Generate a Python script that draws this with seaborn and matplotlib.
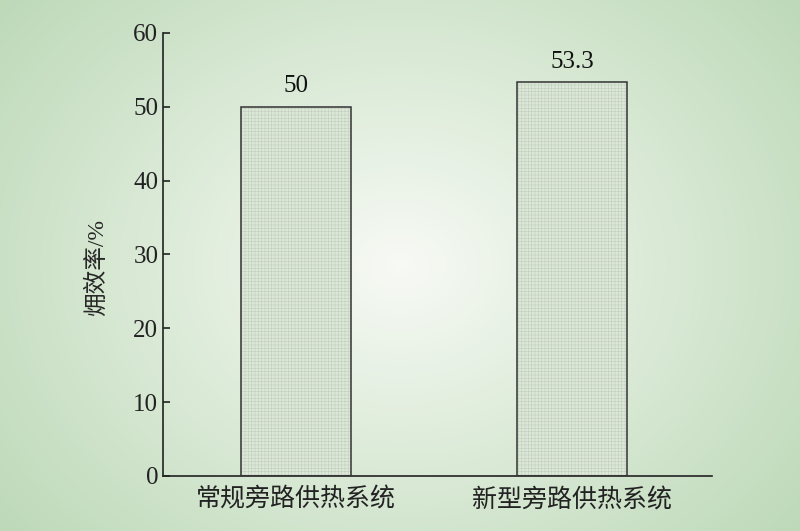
import numpy as np
import pandas as pd
import matplotlib
matplotlib.use("Agg")
import matplotlib.pyplot as plt
from matplotlib.patches import Rectangle
import seaborn as sns

systems = ["常规旁路供热系统", "新型旁路供热系统"]
efficiency = [50, 53.3]
value_labels = ["50", "53.3"]

sns.set_style("ticks")
plt.rcParams["font.family"] = ["Liberation Serif", "Noto Sans CJK SC", "DejaVu Sans"]
plt.rcParams["hatch.linewidth"] = 0.4

df = pd.DataFrame({"system": systems, "efficiency": efficiency})

fig = plt.figure(figsize=(8, 5.31), dpi=100)

# radial gradient background
bg = fig.add_axes([0, 0, 1, 1], zorder=-10)
yy, xx = np.mgrid[0:531, 0:800]
r = np.sqrt(((xx - 400) / 520) ** 2 + ((yy - 265) / 420) ** 2)
r = np.clip(r, 0, 1)
center = np.array([0.97, 0.98, 0.96])
edge = np.array([0.74, 0.85, 0.72])
img = center[None, None, :] * (1 - r[..., None]) + edge[None, None, :] * r[..., None]
bg.imshow(img, aspect="auto", interpolation="bilinear")
bg.axis("off")

ax = fig.add_axes([0.204, 0.1036, 0.686, 0.8343])
ax.patch.set_alpha(0)

sns.barplot(data=df, x="system", y="efficiency", ax=ax, width=0.4,
            color="#dbe9d6", edgecolor="#c0cfbc", linewidth=0, hatch="+++++")

# dark outline on top of the light hatch
for p, lab in zip(ax.patches, value_labels):
    ax.add_patch(Rectangle((p.get_x(), p.get_y()), p.get_width(), p.get_height(),
                           fill=False, edgecolor="#333333", linewidth=1.1, zorder=3))
    ax.text(p.get_x() + p.get_width() / 2, p.get_height() + 1.3, lab,
            ha="center", va="bottom", fontsize=18, color="#111111")

ax.set_xlim(-0.482, 1.507)
ax.set_ylim(0, 60)
ax.set_yticks(range(0, 61, 10))
ax.set_xlabel("")
ax.set_ylabel("㶲效率/%", fontsize=17)
ax.yaxis.set_label_coords(-0.10, 0.47)
ax.tick_params(axis="both", direction="in", length=5, width=1.2, labelsize=18, colors="#222222")
ax.tick_params(axis="x", pad=8)
sns.despine(ax=ax, top=True, right=True)
for s in ["left", "bottom"]:
    ax.spines[s].set_linewidth(1.2)
    ax.spines[s].set_color("#222222")

fig.savefig("out.png", dpi=100)
